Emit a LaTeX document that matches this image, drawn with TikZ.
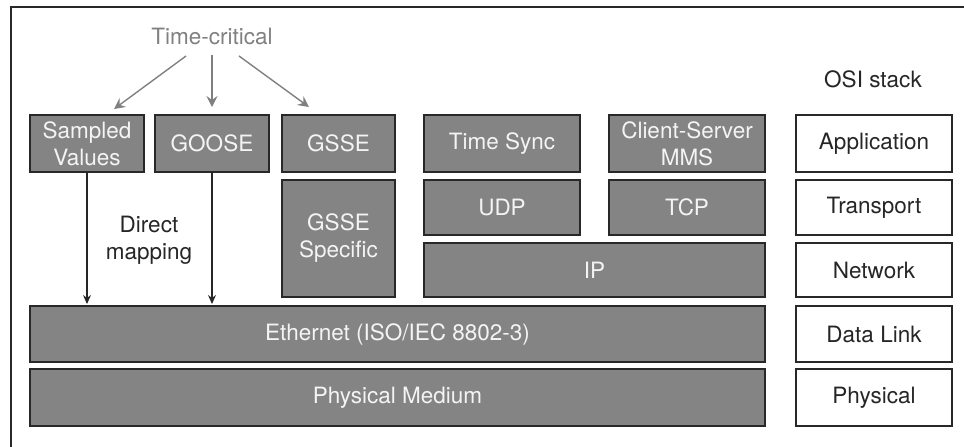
\documentclass[tikz,border=0pt]{standalone}
\usepackage{fontspec}
\setmainfont{TeX Gyre Heros}
\usetikzlibrary{arrows.meta}

\definecolor{layerfill}{RGB}{132,132,132}
\definecolor{layeredge}{RGB}{40,40,40}
\definecolor{layertext}{RGB}{244,244,244}
\definecolor{hintgray}{RGB}{128,128,128}

\tikzset{
  txt/.style={font=\fontsize{22.5}{27}\selectfont, align=center, inner sep=0pt},
  layer/.style={txt, draw=layeredge, line width=1.3pt, fill=layerfill,
    text=layertext, outer sep=0pt},
  osi/.style={txt, draw=layeredge, line width=1.3pt, fill=white,
    text=black!85, outer sep=0pt},
  hintarrow/.style={draw=hintgray, line width=1.4pt,
    -{Stealth[length=11pt,width=11pt,inset=4pt]}},
  maparrow/.style={draw=black!85, line width=1.1pt,
    -{Stealth[length=9pt,width=8pt,inset=3pt]}}
}

\begin{document}
\begin{tikzpicture}[x=1pt,y=-1pt]
  \useasboundingbox (0,0) rectangle (964,447);

  % outer frame (top and left edges)
  \draw[layeredge, line width=1.3pt] (964,7) -- (11,7) -- (11,447);

  % row 1: application protocols
  \node[layer, minimum width=114pt, minimum height=57pt] (sv)    at (87,143.5)  {Sampled\\Values};
  \node[layer, minimum width=114pt, minimum height=57pt] (goose) at (212,143.5) {GOOSE};
  \node[layer, minimum width=113pt, minimum height=57pt] (gsse)  at (338.5,143.5) {GSSE};
  \node[layer, minimum width=156pt, minimum height=57pt] (tsync) at (502,143.5) {Time Sync};
  \node[layer, minimum width=156pt, minimum height=57pt] (mms)   at (687,143.5) {Client-Server\\MMS};

  % row 2: transport
  \node[layer, minimum width=113pt, minimum height=117pt] (gspec) at (338.5,238.5) {GSSE\\Specific};
  \node[layer, minimum width=156pt, minimum height=55pt] (udp) at (502,207.5) {UDP};
  \node[layer, minimum width=156pt, minimum height=55pt] (tcp) at (687,207.5) {TCP};

  % row 3: network
  \node[layer, minimum width=341pt, minimum height=54pt] (ip) at (594.5,270) {IP};

  % rows 4 and 5: link and physical
  \node[layer, minimum width=735pt, minimum height=56pt] (eth)  at (397.5,334)   {Ethernet (ISO/IEC 8802-3)};
  \node[layer, minimum width=735pt, minimum height=57pt] (phys) at (397.5,397.5) {Physical Medium};

  % OSI reference stack
  \node[txt, text=black!85] (osititle) at (873,79) {OSI stack};
  \node[osi, minimum width=156pt, minimum height=57pt] (app)   at (874,143.5) {Application};
  \node[osi, minimum width=156pt, minimum height=55pt] (trans) at (874,207.5) {Transport};
  \node[osi, minimum width=156pt, minimum height=54pt] (net)   at (874,270)   {Network};
  \node[osi, minimum width=156pt, minimum height=56pt] (dlink) at (874,334)   {Data Link};
  \node[osi, minimum width=156pt, minimum height=57pt] (phy)   at (874,397.5) {Physical};

  % time-critical services
  \node[txt, text=hintgray] (tc) at (212,36) {Time-critical};
  \coordinate (tcL) at (186,56);
  \coordinate (tcM) at (212,55);
  \coordinate (tcR) at (239,56);
  \draw[hintarrow] (tcL) -- ([shift={(-30,-6)}]sv.north east);
  \draw[hintarrow] (tcM) -- ([shift={(0,-8)}]goose.north);
  \draw[hintarrow] (tcR) -- ([shift={(27,-8)}]gsse.north west);

  % direct mapping onto Ethernet
  \node[txt, text=black!85] (dmap) at (149,240) {Direct\\mapping};
  \draw[maparrow, shorten >=2pt] (sv.south) -- (sv.south |- eth.north);
  \draw[maparrow, shorten >=2pt] (goose.south) -- (goose.south |- eth.north);
\end{tikzpicture}
\end{document}
